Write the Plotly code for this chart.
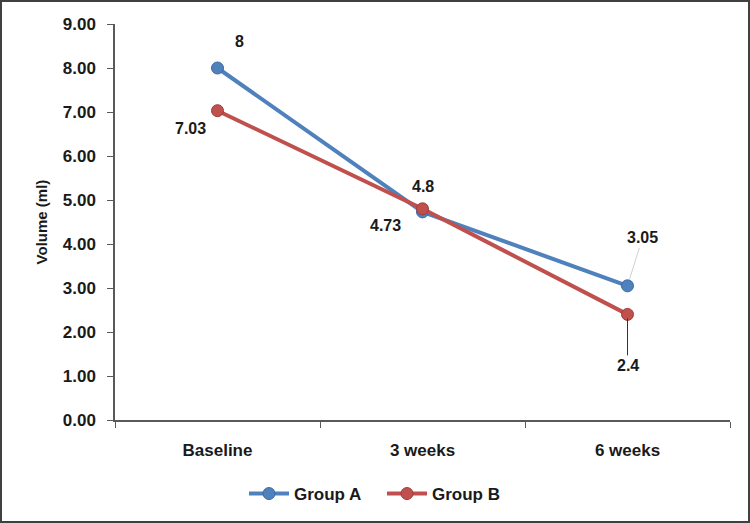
import plotly.graph_objects as go

categories = ["Baseline", "3 weeks", "6 weeks"]
group_a = [8, 4.73, 3.05]
group_b = [7.03, 4.8, 2.4]
label_a = ["8", "4.73", "3.05"]
label_b = ["7.03", "4.8", "2.4"]
y_ticks = [0, 1, 2, 3, 4, 5, 6, 7, 8, 9]

W, H = 750, 523
ML, MR, MT, MB = 115, 20, 24, 103
FONT = "Liberation Sans"
TXT = "#1a1a1a"
AX = "#595959"

fig = go.Figure()
fig.add_trace(go.Scatter(x=categories, y=group_a, name="<b>Group A</b>", mode="lines+markers",
                         line=dict(color="#4F81BD", width=4),
                         marker=dict(size=12, color="#4F81BD", line=dict(color="#3A6AA5", width=1))))
fig.add_trace(go.Scatter(x=categories, y=group_b, name="<b>Group B</b>", mode="lines+markers",
                         line=dict(color="#C0504D", width=4),
                         marker=dict(size=12, color="#C0504D", line=dict(color="#A03C3A", width=1))))

lab_font = dict(family=FONT, size=16, color=TXT)
offs_a = [(22, -27, False), (-37, 14, False), (15, -48, True)]
offs_b = [(-27, 18, False), (0, -22, False), (0, 51, True)]
for i, (dx, dy, arr) in enumerate(offs_a):
    if arr:
        fig.add_annotation(x=categories[i], y=group_a[i], text="<b>%s</b>" % label_a[i], showarrow=True,
                           ax=dx, ay=dy, arrowhead=0, arrowwidth=1, arrowcolor="#d0d0d0",
                           standoff=6, font=lab_font)
    else:
        fig.add_annotation(x=categories[i], y=group_a[i], text="<b>%s</b>" % label_a[i], showarrow=False,
                           xshift=dx, yshift=-dy, font=lab_font)
for i, (dx, dy, arr) in enumerate(offs_b):
    if arr:
        fig.add_annotation(x=categories[i], y=group_b[i], text="<b>%s</b>" % label_b[i], showarrow=True,
                           ax=dx, ay=dy, arrowhead=0, arrowwidth=1, arrowcolor="#333333",
                           standoff=4, font=lab_font)
    else:
        fig.add_annotation(x=categories[i], y=group_b[i], text="<b>%s</b>" % label_b[i], showarrow=False,
                           xshift=dx, yshift=-dy, font=lab_font)

pw, ph = W - ML - MR, H - MT - MB
fig.add_shape(type="rect", xref="paper", yref="paper", layer="above",
              x0=(1 - ML) / pw, x1=(W - 1 - ML) / pw,
              y0=-(H - 1 - MT - ph) / ph, y1=1 + (MT - 1) / ph,
              line=dict(color="#404040", width=2))

leg_y = -(492 - 16 - (MT + ph)) / ph
fig.update_layout(
    width=W, height=H, margin=dict(l=ML, r=MR, t=MT, b=MB, autoexpand=False),
    paper_bgcolor="white", plot_bgcolor="white",
    font=dict(family=FONT, size=13, color=TXT),
    showlegend=True,
    legend=dict(orientation="h", x=(244 - ML) / pw, xanchor="left", y=leg_y, yanchor="top",
                bgcolor="rgba(0,0,0,0)", entrywidth=83, entrywidthmode="pixels",
                font=dict(family=FONT, size=17, color=TXT), itemwidth=40),
    xaxis=dict(type="category", range=[-0.5, 2.5], showline=True, linecolor=AX, linewidth=1.5,
               ticks="outside", tickson="boundaries", ticklen=6, tickcolor=AX, automargin=False,
               tickfont=dict(family=FONT, size=17, color=TXT), showgrid=False, ticklabelstandoff=14,
               tickvals=categories, ticktext=["<b>%s</b>" % c for c in categories]),
    yaxis=dict(range=[0, 9], tickvals=y_ticks, ticktext=["<b>%.2f</b>" % v for v in y_ticks],
               showline=True, linecolor=AX, linewidth=1.5, ticks="outside", ticklen=6,
               tickcolor=AX, showgrid=False, zeroline=False, automargin=False, ticklabelstandoff=8,
               tickfont=dict(family=FONT, size=17, color=TXT),
               title=dict(text="<b>Volume (ml)</b>", font=dict(family=FONT, size=15, color=TXT), standoff=12)),
)

fig.write_html("out.html", config={"displayModeBar": False},
               post_script="document.body.style.margin='0';document.body.style.overflow='hidden';")
